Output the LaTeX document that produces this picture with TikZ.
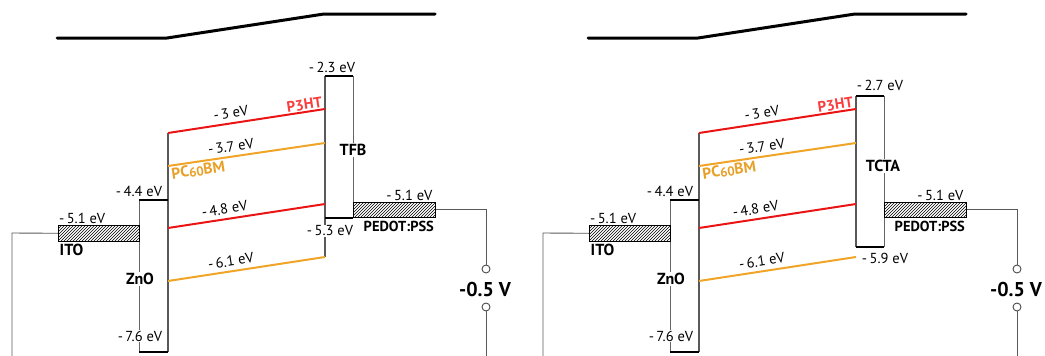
\documentclass[tikz,border=0pt]{standalone}
\usepackage{fontspec}
\setmainfont{PT Sans}
\usetikzlibrary{patterns}
\definecolor{lvlred}{RGB}{235,20,20}
\definecolor{txtred}{RGB}{250,60,60}
\definecolor{lvlorange}{RGB}{240,165,40}
\definecolor{txtorange}{RGB}{232,160,40}
\tikzset{
  bandline/.style={line width=3pt, black, line cap=round},
  edgeline/.style={line width=2.4pt, black},
  sideline/.style={line width=1.3pt, black!65},
  thinside/.style={line width=0.9pt, black!60},
  wireline/.style={line width=0.9pt, black!65},
  redlvl/.style={line width=2pt, lvlred},
  orglvl/.style={line width=2pt, lvlorange},
  ev/.style={font=\fontsize{14.5}{14.5}\selectfont, inner sep=1pt, text=black},
  evw/.style={ev, fill=white},
  lbl/.style={font=\bfseries\fontsize{16}{16}\selectfont, inner sep=1.5pt, fill=white, text=black},
  hatchbox/.style={draw=black, line width=0.6pt, pattern=north east lines, inner sep=0pt, anchor=north west},
  terminal/.style={circle, draw=black!70, line width=0.9pt, fill=white, minimum size=8pt, inner sep=0pt},
}
\newcommand\energypanel[1]{%
  % top band line
  \coordinate (#1-v1) at (57,38);
  \coordinate (#1-v2) at (167,38);
  \coordinate (#1-v3) at (324,14);
  \coordinate (#1-v4) at (435,14);
  \draw[bandline] (#1-v1) -- (#1-v2) -- (#1-v3) -- (#1-v4);
  % ZnO box
  \coordinate (#1-zt) at (139,200);
  \coordinate (#1-ztr) at (168,200);
  \coordinate (#1-zb) at (139,352);
  \coordinate (#1-zbr) at (168,352);
  \coordinate (#1-zr) at (168,133);
  \draw[thinside] (#1-zt) -- (#1-zb);
  \draw[sideline] (#1-zr) -- (#1-zbr);
  \draw[edgeline] (#1-zt) -- (#1-ztr);
  \draw[edgeline] (#1-zb) -- (#1-zbr);
  % organic box
  \coordinate (#1-bt) at (325,\pnlTop);
  \coordinate (#1-btr) at (353,\pnlTop);
  \coordinate (#1-bb) at (325,\pnlBot);
  \coordinate (#1-bbr) at (353,\pnlBot);
  \coordinate (#1-bs) at (325,\pnlSideBot);
  \draw[sideline] (#1-bt) -- (#1-bs);
  \draw[thinside] (#1-btr) -- (#1-bbr);
  \draw[edgeline] (#1-bt) -- (#1-btr);
  \draw[edgeline] (#1-bb) -- (#1-bbr);
  % energy levels
  \coordinate (#1-l1s) at (168,133);
  \coordinate (#1-l1e) at (325,109);
  \coordinate (#1-l2s) at (168,166);
  \coordinate (#1-l2e) at (325,143);
  \coordinate (#1-h1s) at (168,228);
  \coordinate (#1-h1e) at (325,204);
  \coordinate (#1-h2s) at (168,281);
  \coordinate (#1-h2e) at (325,257);
  \draw[redlvl] (#1-l1s) -- node[ev, sloped, above=3pt, pos=0.41] (#1-l1t) {-\,3 eV}
     node[pos=1, sloped, anchor=south east, inner sep=1pt, text=txtred, font=\bfseries\fontsize{15}{15}\selectfont] (#1-p3ht) {P3HT} (#1-l1e);
  \draw[orglvl] (#1-l2s) -- node[ev, sloped, above=3pt, pos=0.41] (#1-l2t) {-\,3.7 eV}
     node[pos=0, sloped, anchor=north west, inner sep=1.5pt, text=txtorange, font=\bfseries\fontsize{15.5}{15.5}\selectfont] (#1-pcbm) {PC\raisebox{-1pt}{\fontsize{13}{13}\selectfont 60}BM} (#1-l2e);
  \draw[redlvl] (#1-h1s) -- node[ev, sloped, above=3pt, pos=0.37] (#1-h1t) {-\,4.8 eV} (#1-h1e);
  \draw[orglvl] (#1-h2s) -- node[ev, sloped, above=3pt, pos=0.41] (#1-h2t) {-\,6.1 eV} (#1-h2e);
  % box labels
  \node[evw] (#1-zntop) at (139,191) {-\,4.4 eV};
  \node[evw] (#1-znbot) at (140,336) {-\,7.6 eV};
  \node[lbl] (#1-zn) at (140,279) {ZnO};
  \node[ev] (#1-btl) at \pnlTopPos {\pnlTopLbl};
  \node[evw, inner sep=0.5pt] (#1-bbl) at \pnlBotPos {\pnlBotLbl};
  \node[lbl] (#1-bname) at \pnlBoxPos {\pnlBoxText};
  % electrodes
  \node[hatchbox, minimum width=81pt, minimum height=16pt] (#1-ito) at (58,225) {};
  \node[ev, anchor=south west] (#1-itoev) at (#1-ito.north west) {-\,5.1 eV};
  \node[lbl, anchor=north west, fill=none] (#1-itol) at ([yshift=-0.5pt]#1-ito.south west) {ITO};
  \node[hatchbox, minimum width=82pt, minimum height=15pt] (#1-ped) at (353,202) {};
  \node[ev, anchor=south east] (#1-pedev) at ([xshift=-2pt]#1-ped.north east) {-\,5.1 eV};
  \node[lbl, anchor=north east, fill=none, font=\bfseries\fontsize{14.5}{14.5}\selectfont] (#1-pedl) at ([yshift=-1.5pt]#1-ped.south east) {PEDOT:PSS};
  % circuit
  \coordinate (#1-w1) at (12,233);
  \coordinate (#1-w2) at (12,356);
  \draw[wireline] (#1-ito.west) -- (#1-w1) -- (#1-w2);
  \node[terminal] (#1-c1) at (486,269) {};
  \node[terminal] (#1-c2) at (486,307) {};
  \coordinate (#1-w3) at (486,356);
  \draw[wireline] (#1-ped.east) -| (#1-c1.north);
  \draw[wireline] (#1-c2.south) -- (#1-w3);
  \node[font=\bfseries\fontsize{20}{20}\selectfont, inner sep=0pt] (#1-volt) at (485,289) {-0.5 V};
}
\begin{document}
\begin{tikzpicture}[x=1pt,y=-1pt]
\useasboundingbox (0,0) rectangle (1045,356);
\def\pnlBoxText{TFB}\def\pnlTop{76}\def\pnlBot{218}\def\pnlSideBot{257}
\def\pnlTopLbl{-\,2.3 eV}\def\pnlBotLbl{-\,5.3 eV}
\def\pnlTopPos{(332,67)}\def\pnlBotPos{(330,231)}\def\pnlBoxPos{(353,150)}
\energypanel{L}
\begin{scope}[xshift=531pt]
\def\pnlBoxText{TCTA}\def\pnlTop{96}\def\pnlBot{247}\def\pnlSideBot{247}
\def\pnlTopLbl{-\,2.7 eV}\def\pnlBotLbl{-\,5.9 eV}
\def\pnlTopPos{(349,85)}\def\pnlBotPos{(354,258)}\def\pnlBoxPos{(352,166)}
\energypanel{R}
\end{scope}
\end{tikzpicture}
\end{document}
